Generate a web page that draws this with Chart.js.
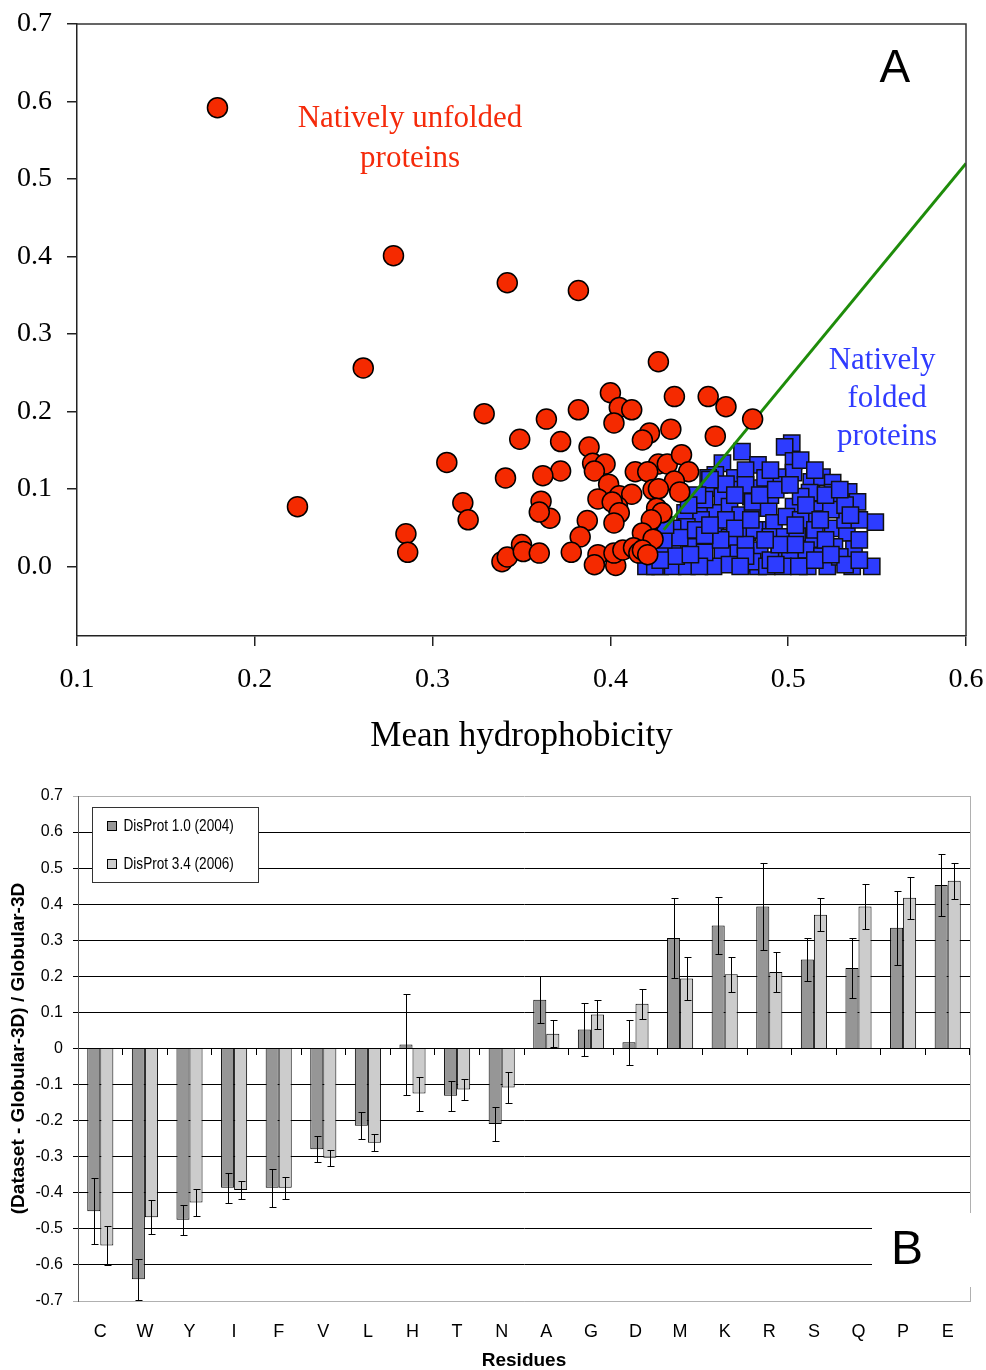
<!DOCTYPE html>
<html>
<head>
<meta charset="utf-8">
<title>Hydrophobicity / composition charts</title>
<script src="https://cdn.jsdelivr.net/npm/chart.js@4.4.1/dist/chart.umd.min.js"></script>
<style>
    body { margin: 0; background: #fff; }
    #wrap { position: relative; width: 986px; height: 1370px; }
    #scatterChart { position: absolute; left: 0; top: 0; }
    #barChart { position: absolute; left: 0; top: 780px; }
</style>
</head>
<body>
<div id="wrap">
    <canvas id="scatterChart" width="986" height="770"></canvas>
    <canvas id="barChart" width="986" height="590"></canvas>
</div>
<script>
// ---- Panel A: charge vs hydrophobicity ----
const unfoldedHydro = [
    0.179, 0.278, 0.342, 0.382, 0.261, 0.427, 0.329, 0.400, 0.436, 0.455,
    0.465, 0.480, 0.364, 0.382, 0.405, 0.412, 0.402, 0.434, 0.422, 0.418,
    0.459, 0.349, 0.372, 0.388, 0.308, 0.390, 0.397, 0.391, 0.427, 0.432,
    0.440, 0.444, 0.414, 0.421, 0.372, 0.362, 0.341, 0.399, 0.436, 0.439,
    0.317, 0.320, 0.361, 0.366, 0.360, 0.393, 0.405, 0.412, 0.424, 0.427,
    0.404, 0.401, 0.426, 0.429, 0.423, 0.405, 0.387, 0.402, 0.383, 0.418,
    0.424, 0.339, 0.342, 0.350, 0.351, 0.360, 0.378, 0.393, 0.391, 0.403,
    0.402, 0.407, 0.413, 0.416, 0.418, 0.421, 0.285, 0.286, 0.224
];
const unfoldedCharge = [
    0.592, 0.401, 0.366, 0.356, 0.256, 0.264, 0.197, 0.224, 0.219, 0.219,
    0.206, 0.190, 0.190, 0.202, 0.205, 0.202, 0.185, 0.177, 0.172, 0.163,
    0.168, 0.164, 0.161, 0.154, 0.134, 0.133, 0.132, 0.123, 0.132, 0.132,
    0.144, 0.122, 0.122, 0.122, 0.123, 0.117, 0.114, 0.106, 0.110, 0.096,
    0.082, 0.060, 0.084, 0.062, 0.070, 0.087, 0.091, 0.093, 0.099, 0.100,
    0.077, 0.083, 0.075, 0.069, 0.060, 0.069, 0.059, 0.056, 0.038, 0.043,
    0.035, 0.006, 0.012, 0.028, 0.019, 0.017, 0.018, 0.015, 0.002, 0.001,
    0.017, 0.021, 0.024, 0.017, 0.021, 0.015, 0.042, 0.018, 0.077
];

const foldedHydro = [
    0.474, 0.463, 0.470, 0.459, 0.457, 0.463, 0.473, 0.479, 0.452, 0.459,
    0.467, 0.473, 0.480, 0.442, 0.451, 0.443, 0.435, 0.459, 0.467, 0.477,
    0.435, 0.452, 0.460, 0.445, 0.463, 0.472, 0.483, 0.449, 0.458, 0.467,
    0.477, 0.423, 0.428, 0.435, 0.443, 0.483, 0.483, 0.502, 0.498, 0.503,
    0.483, 0.503, 0.494, 0.495, 0.513, 0.519, 0.525, 0.534, 0.512, 0.525,
    0.539, 0.529, 0.485, 0.480, 0.489, 0.503, 0.517, 0.515, 0.492, 0.499,
    0.549, 0.525, 0.533, 0.481, 0.490, 0.498, 0.512, 0.505, 0.526, 0.537,
    0.484, 0.510, 0.519, 0.495, 0.501, 0.480, 0.488, 0.497, 0.511, 0.522,
    0.536, 0.547, 0.506, 0.428, 0.437, 0.453, 0.428, 0.439, 0.448, 0.453,
    0.465, 0.476, 0.470, 0.421, 0.420, 0.430, 0.455, 0.465, 0.476, 0.487,
    0.490, 0.507, 0.507, 0.504, 0.515, 0.521, 0.529, 0.540, 0.532, 0.524,
    0.540, 0.490, 0.476, 0.450, 0.431, 0.456, 0.449, 0.444, 0.476, 0.484,
    0.493, 0.501, 0.510, 0.521, 0.532, 0.535, 0.518, 0.504, 0.495, 0.487,
    0.479, 0.470, 0.462, 0.453, 0.445, 0.425, 0.473, 0.493, 0.515, 0.532,
    0.540, 0.524, 0.490, 0.507, 0.515, 0.529, 0.456, 0.428
];
const foldedCharge = [
    0.148, 0.133, 0.114, 0.118, 0.101, 0.090, 0.099, 0.090, 0.075, 0.069,
    0.077, 0.066, 0.075, 0.069, 0.060, 0.051, 0.049, 0.049, 0.037, 0.044,
    0.025, 0.030, 0.034, 0.025, 0.015, 0.017, 0.018, 0.004, 0.000, 0.002,
    0.004, 0.004, 0.000, 0.000, 0.000, 0.000, 0.047, 0.159, 0.154, 0.136,
    0.131, 0.121, 0.115, 0.105, 0.109, 0.115, 0.108, 0.096, 0.095, 0.095,
    0.083, 0.083, 0.101, 0.083, 0.075, 0.077, 0.073, 0.061, 0.056, 0.064,
    0.057, 0.049, 0.043, 0.047, 0.038, 0.038, 0.035, 0.043, 0.025, 0.022,
    0.021, 0.021, 0.013, 0.012, 0.012, 0.006, 0.000, 0.000, 0.000, 0.000,
    0.000, 0.000, 0.000, 0.024, 0.013, 0.018, 0.044, 0.037, 0.047, 0.086,
    0.060, 0.028, 0.049, 0.012, 0.000, 0.034, 0.114, 0.106, 0.124, 0.114,
    0.092, 0.090, 0.060, 0.028, 0.047, 0.034, 0.012, 0.034, 0.060, 0.073,
    0.060, 0.008, 0.013, 0.000, 0.053, 0.112, 0.092, 0.079, 0.105, 0.092,
    0.099, 0.105, 0.079, 0.092, 0.079, 0.066, 0.060, 0.053, 0.028, 0.034,
    0.060, 0.092, 0.034, 0.040, 0.015, 0.000, 0.000, 0.002, 0.008, 0.002,
    0.008, 0.015, 0.124, 0.137, 0.124, 0.099, 0.053, 0.008
];

// boundary line end points (charge-hydropathy border)
const boundaryHydro = [0.43, 0.60];
const boundaryCharge = [0.047, 0.52];

// ---- Panel B: composition difference per residue ----
const residues = ['C', 'W', 'Y', 'I', 'F', 'V', 'L', 'H', 'T', 'N',
                  'A', 'G', 'D', 'M', 'K', 'R', 'S', 'Q', 'P', 'E'];
const disprot10 = [-0.451, -0.640, -0.475, -0.386, -0.386, -0.279, -0.214, 0.011, -0.131, -0.209,
                   0.135, 0.053, 0.017, 0.306, 0.341, 0.394, 0.247, 0.223, 0.335, 0.453];
const disprot10Err = [0.092, 0.056, 0.042, 0.041, 0.053, 0.036, 0.038, 0.140, 0.041, 0.048,
                      0.065, 0.074, 0.062, 0.110, 0.080, 0.120, 0.060, 0.083, 0.103, 0.086];
const disprot34 = [-0.546, -0.468, -0.427, -0.392, -0.386, -0.303, -0.261, -0.125, -0.114, -0.108,
                   0.041, 0.094, 0.124, 0.194, 0.206, 0.212, 0.371, 0.394, 0.418, 0.465];
const disprot34Err = [0.053, 0.047, 0.038, 0.026, 0.030, 0.023, 0.024, 0.047, 0.030, 0.042,
                      0.038, 0.041, 0.042, 0.060, 0.048, 0.056, 0.045, 0.062, 0.058, 0.050];

const SERIF = "'Liberation Serif', 'Times New Roman', serif";
const SANS = "'Liberation Sans', Arial, sans-serif";

function toPoints(xs, ys) {
    return xs.map((x, i) => ({ x: x, y: ys[i] }));
}

// stop the tick labels from pushing the plot area in; layout padding sets it
function noLabelPadding(s) {
    s.paddingTop = 0;
    s.paddingBottom = 0;
    s.paddingLeft = 0;
    s.paddingRight = 0;
}

// frame + text labels for panel A
const scatterNotes = {
    id: 'scatterNotes',
    afterDraw(chart) {
        const { ctx, chartArea, scales } = chart;
        const px = v => scales.x.getPixelForValue(v);
        const py = v => scales.y.getPixelForValue(v);
        ctx.save();
        ctx.strokeStyle = '#333';
        ctx.lineWidth = 1.5;
        ctx.beginPath();
        ctx.moveTo(chartArea.left, chartArea.top);
        ctx.lineTo(chartArea.right, chartArea.top);
        ctx.lineTo(chartArea.right, chartArea.bottom);
        ctx.stroke();

        ctx.textAlign = 'center';
        ctx.textBaseline = 'middle';
        ctx.font = '31px ' + SERIF;
        ctx.fillStyle = '#F52A0A';
        ctx.fillText('Natively unfolded', px(0.2873), py(0.578));
        ctx.fillText('proteins', px(0.2873), py(0.526));

        ctx.fillStyle = '#2F3BFF';
        ctx.fillText('Natively', px(0.5528), py(0.265));
        ctx.fillText('folded', px(0.5556), py(0.216));
        ctx.fillText('proteins', px(0.5556), py(0.167));

        ctx.fillStyle = '#000';
        ctx.font = '46px ' + SANS;
        ctx.fillText('A', px(0.560), py(0.641));
        ctx.restore();
    }
};

new Chart(document.getElementById('scatterChart'), {
    type: 'scatter',
    data: {
        datasets: [
            {
                label: 'Natively unfolded proteins',
                data: toPoints(unfoldedHydro, unfoldedCharge),
                backgroundColor: '#F52A00',
                borderColor: '#000',
                borderWidth: 1.5,
                pointRadius: 10,
                order: 0
            },
            {
                label: 'Boundary',
                type: 'line',
                data: toPoints(boundaryHydro, boundaryCharge),
                borderColor: '#1E8C0A',
                borderWidth: 3,
                pointRadius: 0,
                fill: false,
                order: 1
            },
            {
                label: 'Natively folded proteins',
                data: toPoints(foldedHydro, foldedCharge),
                pointStyle: 'rect',
                backgroundColor: '#2D3CFF',
                borderColor: '#111',
                borderWidth: 1.5,
                pointRadius: 11.5,
                order: 2
            }
        ]
    },
    options: {
        responsive: false,
        animation: false,
        layout: { padding: { top: 24, right: 20, left: 0, bottom: 0 } },
        plugins: {
            legend: { display: false },
            tooltip: { enabled: false }
        },
        scales: {
            x: {
                type: 'linear',
                min: 0.1,
                max: 0.6,
                ticks: {
                    stepSize: 0.1,
                    padding: 17,
                    color: '#000',
                    font: { family: SERIF, size: 28 },
                    callback: v => v.toFixed(1)
                },
                grid: { drawOnChartArea: false, tickLength: 10, color: '#222', lineWidth: 1.5 },
                border: { color: '#222', width: 1.5 },
                title: {
                    display: true,
                    text: 'Mean hydrophobicity',
                    color: '#000',
                    font: { family: SERIF, size: 35 },
                    padding: { top: 0, bottom: 12 }
                },
                afterFit: s => { s.height = 134; noLabelPadding(s); }
            },
            y: {
                min: -0.09,
                max: 0.7,
                ticks: {
                    stepSize: 0.1,
                    includeBounds: false,
                    padding: 15,
                    color: '#000',
                    font: { family: SERIF, size: 28 },
                    callback: v => v.toFixed(1)
                },
                grid: { drawOnChartArea: false, tickLength: 10, color: '#222', lineWidth: 1.5 },
                border: { color: '#222', width: 1.5 },
                afterFit: s => { s.width = 77; noLabelPadding(s); }
            }
        }
    },
    plugins: [scatterNotes]
});

// error bars, legend box and panel letter for panel B
const barExtras = {
    id: 'barExtras',
    afterDatasetsDraw(chart) {
        const { ctx, chartArea, scales } = chart;
        ctx.save();

        // error bars
        ctx.strokeStyle = '#000';
        ctx.lineWidth = 1;
        chart.data.datasets.forEach((ds, i) => {
            const meta = chart.getDatasetMeta(i);
            meta.data.forEach((bar, j) => {
                const v = ds.data[j];
                const e = ds.errorBars[j];
                const top = Math.round(scales.y.getPixelForValue(v + e)) + 0.5;
                const bot = Math.round(scales.y.getPixelForValue(v - e)) + 0.5;
                const x = Math.round(bar.x) + 0.5;
                ctx.beginPath();
                ctx.moveTo(x, top);
                ctx.lineTo(x, bot);
                ctx.moveTo(x - 3, top);
                ctx.lineTo(x + 4, top);
                ctx.moveTo(x - 3, bot);
                ctx.lineTo(x + 4, bot);
                ctx.stroke();
            });
        });

        // right frame edge
        ctx.strokeStyle = '#b0b0b0';
        ctx.beginPath();
        ctx.moveTo(chartArea.right + 0.5, chartArea.top);
        ctx.lineTo(chartArea.right + 0.5, chartArea.bottom);
        ctx.stroke();

        // legend box
        const lx = chartArea.left + 14.5;
        const ly = chartArea.top + 11.5;
        ctx.fillStyle = '#fff';
        ctx.fillRect(lx, ly, 166, 75);
        ctx.strokeStyle = '#333';
        ctx.strokeRect(lx, ly, 166, 75);
        ctx.font = '17px ' + SANS;
        ctx.textBaseline = 'middle';
        ctx.textAlign = 'left';
        chart.data.datasets.forEach((ds, i) => {
            const cy = ly + 19 + i * 38;
            ctx.fillStyle = ds.backgroundColor;
            ctx.fillRect(lx + 15, cy - 5, 9, 9);
            ctx.strokeStyle = '#000';
            ctx.strokeRect(lx + 15, cy - 5, 9, 9);
            // condensed label text, like a narrow face
            ctx.save();
            ctx.translate(lx + 31, cy);
            ctx.scale(0.8, 1);
            ctx.fillStyle = '#000';
            ctx.fillText(ds.label, 0, 0);
            ctx.restore();
        });

        // panel letter in its white box
        ctx.fillStyle = '#fff';
        ctx.fillRect(chartArea.right - 98, chartArea.top + 417, 110, 74);
        ctx.fillStyle = '#000';
        ctx.font = '48px ' + SANS;
        ctx.textAlign = 'center';
        ctx.fillText('B', chartArea.right - 63, chartArea.top + 455);
        ctx.restore();
    }
};

new Chart(document.getElementById('barChart'), {
    type: 'bar',
    data: {
        labels: residues,
        datasets: [
            {
                label: 'DisProt 1.0 (2004)',
                data: disprot10,
                errorBars: disprot10Err,
                backgroundColor: '#969696',
                borderColor: '#000',
                borderWidth: 1,
                xAxisID: 'x',
                yAxisID: 'y'
            },
            {
                label: 'DisProt 3.4 (2006)',
                data: disprot34,
                errorBars: disprot34Err,
                backgroundColor: '#cccccc',
                borderColor: '#000',
                borderWidth: 1,
                xAxisID: 'x',
                yAxisID: 'y'
            }
        ]
    },
    options: {
        responsive: false,
        animation: false,
        layout: { padding: { top: 16, right: 16, left: 0, bottom: 0 } },
        datasets: { bar: { categoryPercentage: 0.585, barPercentage: 1.0 } },
        plugins: {
            legend: { display: false },
            tooltip: { enabled: false }
        },
        scales: {
            x: {
                type: 'category',
                offset: true,
                grid: { display: false },
                border: { display: true, color: '#b0b0b0' },
                ticks: { padding: 12, color: '#000', font: { family: SANS, size: 18 } },
                title: {
                    display: true,
                    text: 'Residues',
                    color: '#000',
                    font: { family: SANS, size: 19, weight: 'bold', lineHeight: 1 },
                    padding: { top: 0, bottom: 0 }
                },
                afterFit: s => { s.height = 69; noLabelPadding(s); }
            },
            // category axis drawn along the zero line, tick marks only
            xZero: {
                type: 'category',
                position: { y: 0 },
                offset: true,
                ticks: { display: false },
                grid: { offset: true, drawOnChartArea: false, drawTicks: true, tickLength: 6, color: '#000' },
                border: { display: true, color: '#000', width: 1 },
                afterFit: s => { s.height = 0; noLabelPadding(s); }
            },
            y: {
                min: -0.7,
                max: 0.7,
                ticks: {
                    stepSize: 0.1,
                    padding: 10,
                    color: '#000',
                    font: { family: SANS, size: 16 },
                    callback: v => (Math.abs(v) < 1e-9 ? '0' : v.toFixed(1))
                },
                grid: {
                    tickLength: 5,
                    color: ctx => (Math.abs(ctx.tick.value) > 0.65 ? '#b0b0b0' : '#000')
                },
                border: { color: '#555' },
                title: {
                    display: true,
                    text: '(Dataset - Globular-3D) / Globular-3D',
                    color: '#000',
                    font: { family: SANS, size: 19, weight: 'bold' },
                    padding: { top: 7, bottom: 0 }
                },
                afterFit: s => { s.width = 78; noLabelPadding(s); }
            }
        }
    },
    plugins: [barExtras]
});
</script>
</body>
</html>
